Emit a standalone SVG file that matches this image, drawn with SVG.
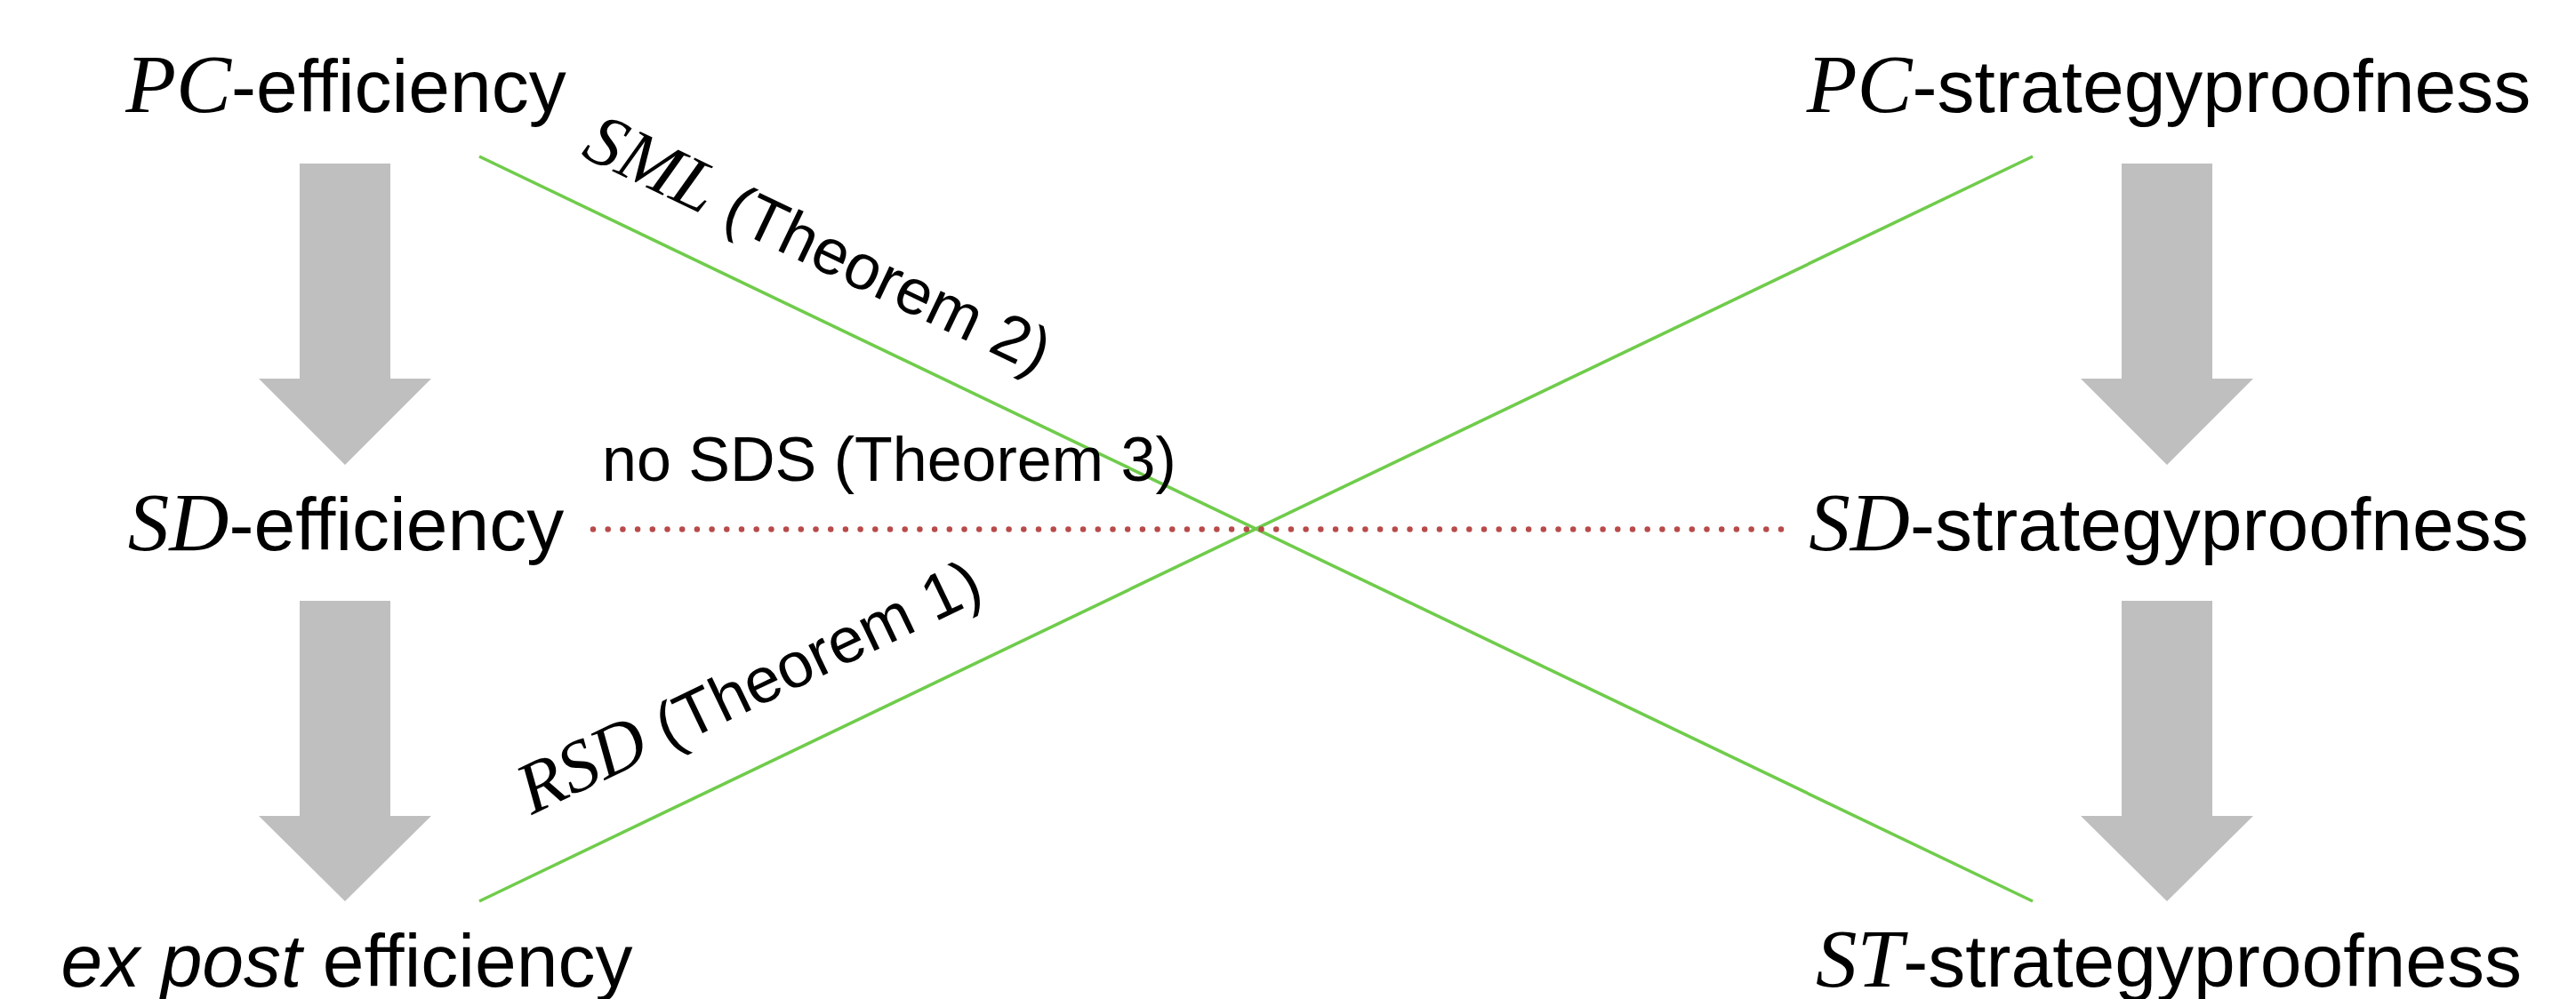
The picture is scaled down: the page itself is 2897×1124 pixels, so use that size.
<svg xmlns="http://www.w3.org/2000/svg" width="2897" height="1124" viewBox="0 0 2897 1124">
<style>
.m{font-family:"Liberation Serif",serif;font-style:italic}
.s{font-family:"Liberation Sans",Arial,sans-serif}
.node text{font-size:84px;fill:#000}
.node .m{font-size:93px}
.lab{font-size:72px;fill:#000}
.lab .m{font-size:82px}
.lab.h{font-size:70px}
.blk{fill:#bfbfbf}
.grn{stroke:#6fcc4b;stroke-width:3.6;fill:none}
.dots{stroke:#b84a4a;stroke-width:6.5;stroke-linecap:round;stroke-dasharray:0 16.7;fill:none}
</style>
<rect width="2897" height="1124" fill="#fff"/>
<g id="connectors">
<polygon class="blk" points="337,184 439,184 439,426 485,426 388,523 291,426 337,426"/>
<polygon class="blk" points="337,676 439,676 439,918 485,918 388,1014 291,918 337,918"/>
<polygon class="blk" points="2386,184 2488,184 2488,426 2534,426 2437,523 2340,426 2386,426"/>
<polygon class="blk" points="2386,676 2488,676 2488,918 2534,918 2437,1014 2340,918 2386,918"/>
<line class="grn" x1="539" y1="176" x2="2286" y2="1014"/>
<line class="grn" x1="539" y1="1014" x2="2286" y2="176"/>
<line class="dots" x1="667" y1="595.5" x2="2004" y2="595.5"/>
<text class="lab h s" x="677" y="541">no SDS (Theorem 3)</text>
<text class="lab s" transform="translate(652,175) rotate(25.6)"><tspan class="m">SML</tspan> (Theorem 2)</text>
<text class="lab s" transform="translate(598,917) rotate(-25.6)"><tspan class="m">RSD</tspan>  (Theorem 1)</text>
</g>
<g id="pc-efficiency" class="node"><text class="s" x="389" y="126" text-anchor="middle"><tspan class="m">PC</tspan>-efficiency</text></g>
<g id="sd-efficiency" class="node"><text class="s" x="389" y="619" text-anchor="middle"><tspan class="m">SD</tspan>-efficiency</text></g>
<g id="ex-post-efficiency" class="node"><text class="s" x="390" y="1110" text-anchor="middle"><tspan font-style="italic">ex post</tspan> efficiency</text></g>
<g id="pc-strategyproofness" class="node"><text class="s" x="2439" y="126" text-anchor="middle"><tspan class="m">PC</tspan>-strategyproofness</text></g>
<g id="sd-strategyproofness" class="node"><text class="s" x="2439" y="619" text-anchor="middle"><tspan class="m">SD</tspan>-strategyproofness</text></g>
<g id="st-strategyproofness" class="node"><text class="s" x="2439" y="1110" text-anchor="middle"><tspan class="m">ST</tspan>-strategyproofness</text></g>
</svg>
